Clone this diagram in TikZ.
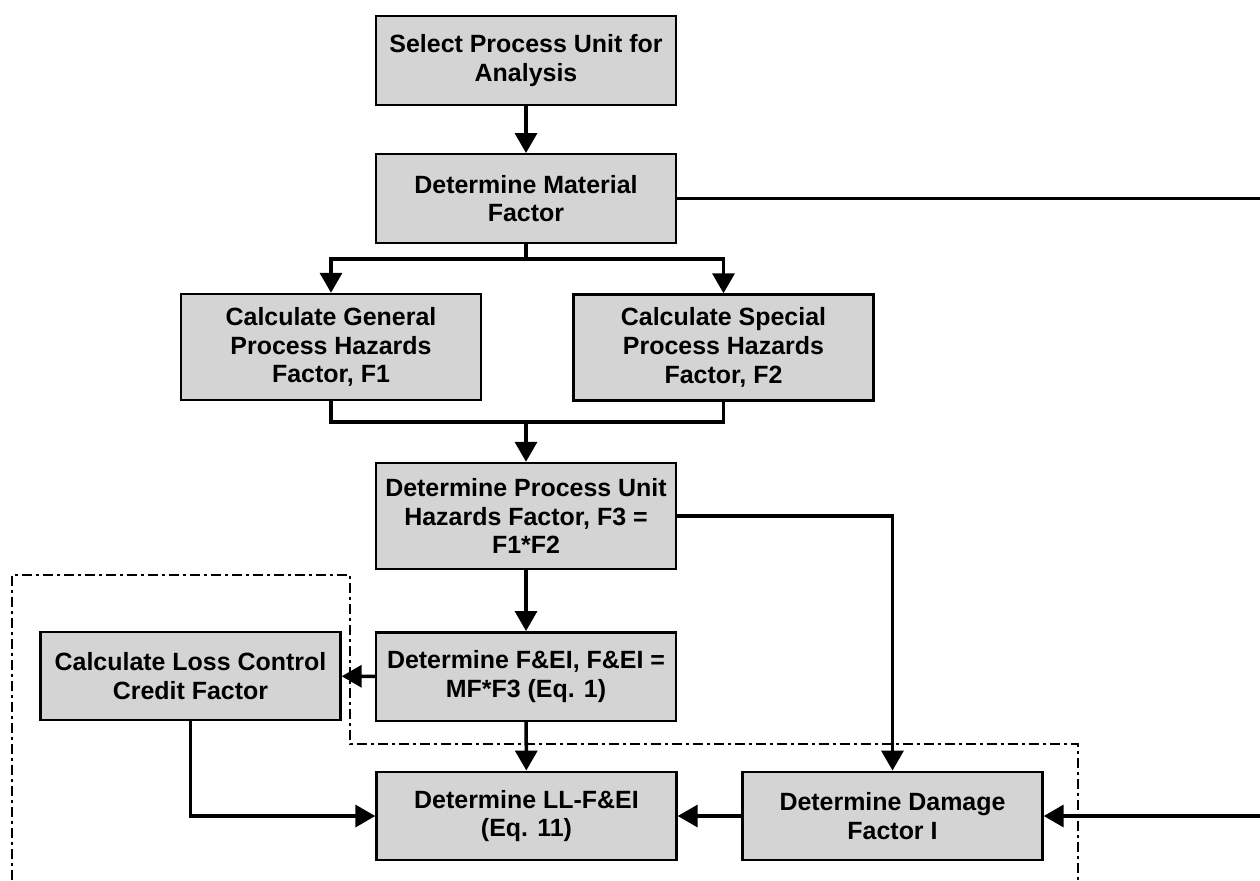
\documentclass[tikz,border=0pt]{standalone}
\usepackage{fontspec}
\setmainfont{Liberation Sans}
\usetikzlibrary{arrows.meta}
\definecolor{boxgray}{RGB}{212,212,212}

\begin{document}
\begin{tikzpicture}[x=0.02cm, y=-0.02cm,
  box/.style={draw, rectangle, fill=boxgray, line width=1.4pt, align=center,
    minimum width=6cm, inner sep=0pt,
    font=\bfseries\fontsize{14.2}{16.3}\selectfont},
  two/.style={minimum height=1.77cm},
  three/.style={minimum height=2.12cm},
  link/.style={line width=2pt, -{Triangle[length=0.4cm, width=0.44cm]}},
  plain/.style={line width=2pt},
  region/.style={line width=1.2pt, dash pattern=on 0.2cm off 0.08cm on 0.06cm off 0.08cm}]
\useasboundingbox[fill=white] (0,0) rectangle (1260,880);
\node[box, two] (1) at (526,60.5) {Select Process Unit for\\Analysis};
\node[box, two] (2) at (526,198.5) {Determine Material\\Factor};
\node[box, three] (3) at (331,347) {Calculate General\\Process Hazards\\Factor, F1};
\node[box, three] (4) at (723.5,347.5) {Calculate Special\\Process Hazards\\Factor, F2};
\node[box, three] (5) at (526,516) {Determine Process Unit\\Hazards Factor, F3 =\\F1*F2};
\node[box, two] (6) at (526,676.5) {Determine F\&EI, F\&EI =\\MF*F3 (Eq. 1)};
\node[box, two] (7) at (190.5,676) {Calculate Loss Control\\Credit Factor};
\node[box, two] (8) at (526.5,816) {Determine LL-F\&EI\\(Eq. 11)};
\node[box, two] (9) at (892.5,816) {Determine Damage\\Factor I};
\coordinate (s1) at (526,259);
\coordinate (s2) at (526,422);
\coordinate (e1) at (1260,198.5);
\coordinate (e2) at (1260,816);
% dash-dot region, open at the bottom
\draw[region] (12,880) -- (12,575) -- (350,575) -- (350,744) -- (1078,744) -- (1078,880);
\path[draw,link] (1) -- (2);
\path[draw,plain] (2) -- (s1);
\path[draw,link] (s1) -| (3);
\path[draw,link] (s1) -| (4);
\path[draw,plain] (3) |- (s2);
\path[draw,plain] (4) |- (s2);
\path[draw,link] (s2) -- (5);
\path[draw,link] (5) -- (6);
\path[draw,link] (6) -- (7);
\path[draw,link] (6) -- (8);
\path[draw,link] (5) -| (9);
\path[draw,link] (7) |- (8);
\path[draw,link] (9) -- (8);
\path[draw,plain] (2) -- (e1);
\path[draw,link] (e2) -- (9);
\end{tikzpicture}
\end{document}
